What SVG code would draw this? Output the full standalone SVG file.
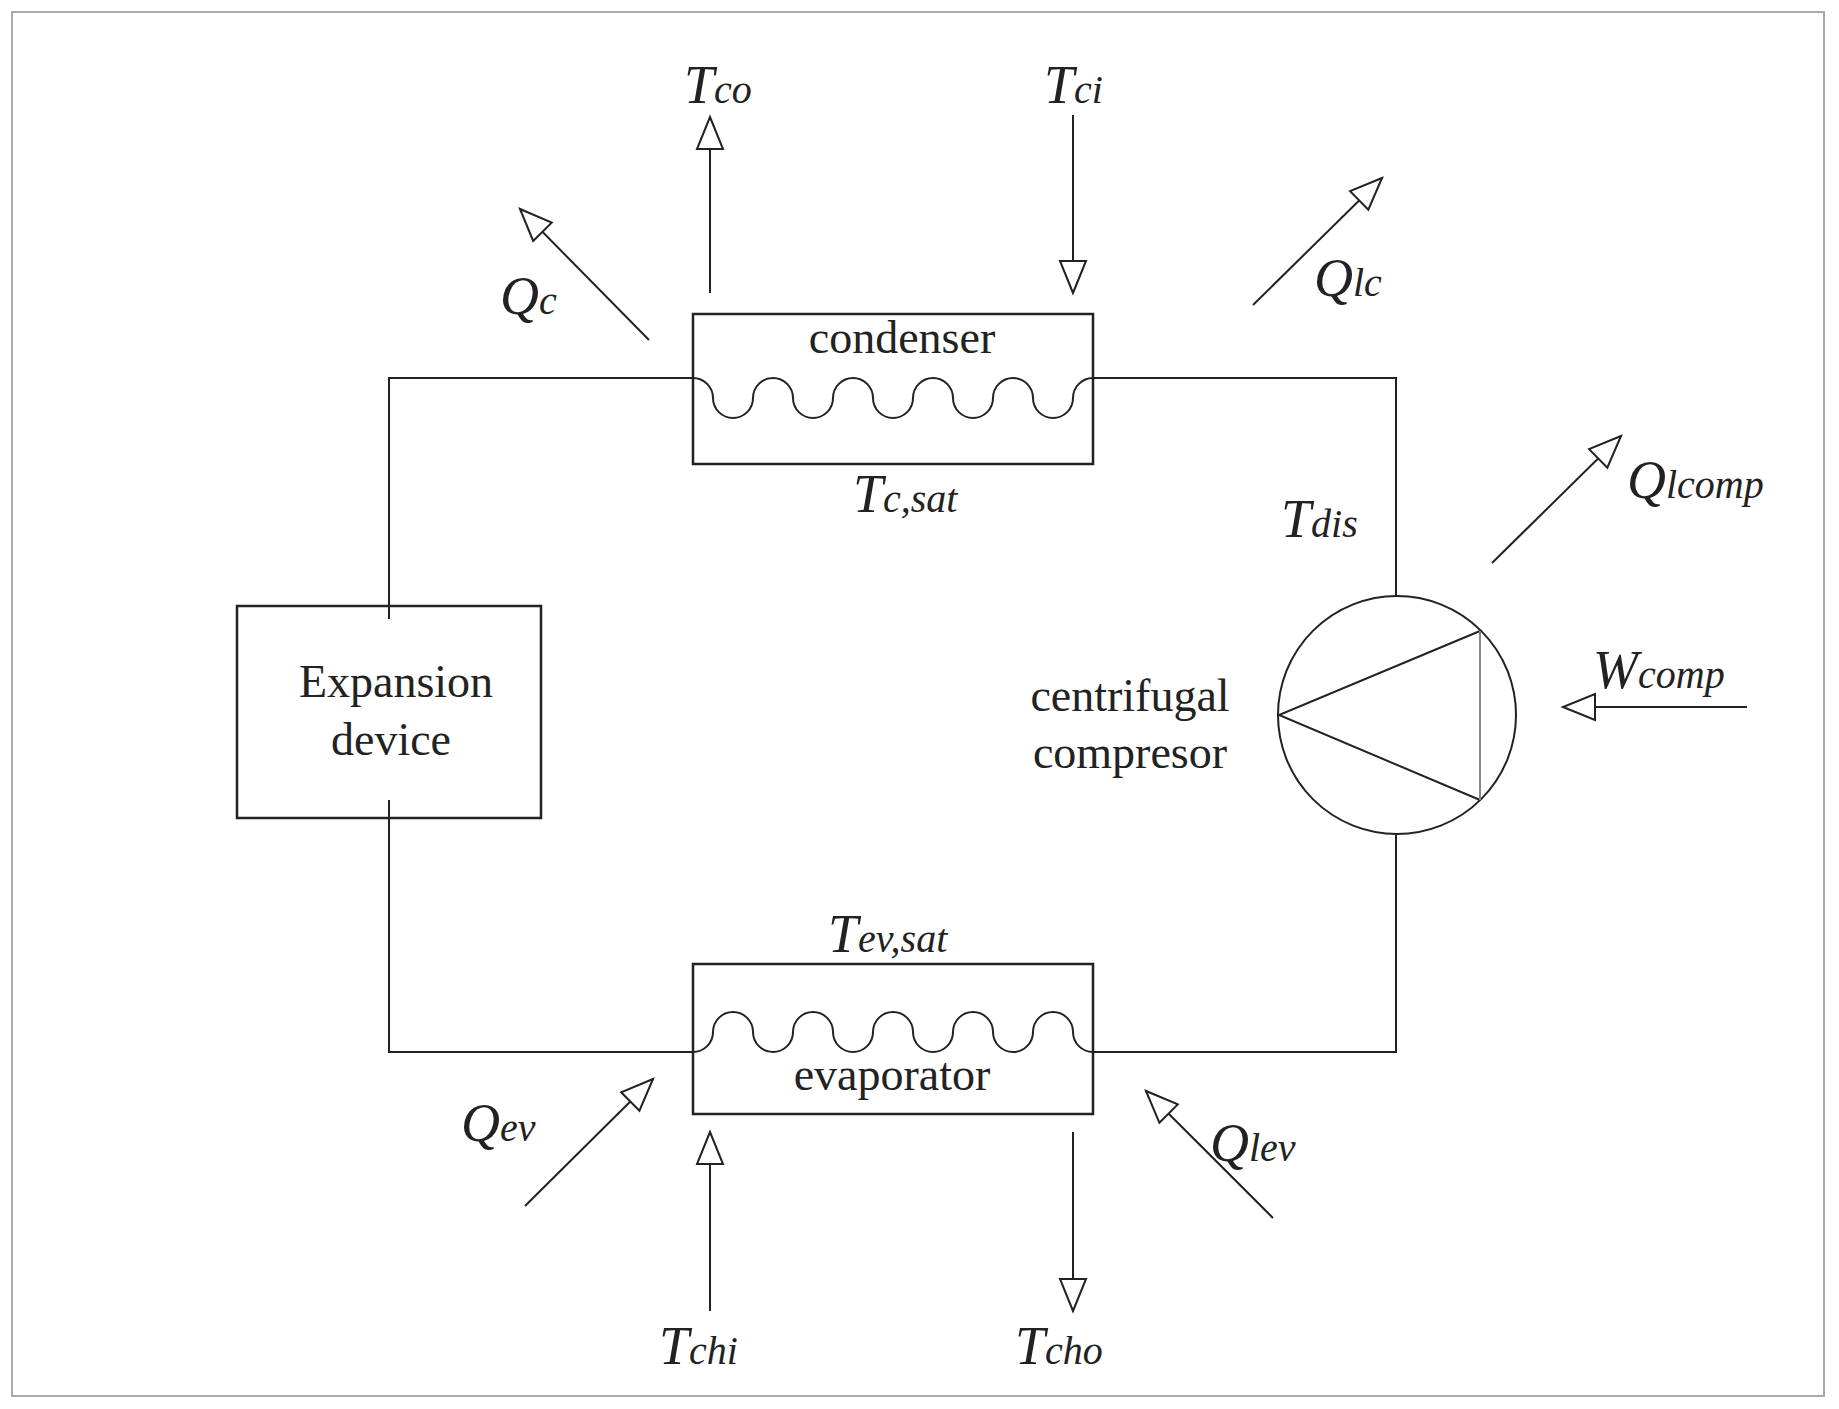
<svg xmlns="http://www.w3.org/2000/svg" width="1839" height="1409" viewBox="0 0 1839 1409">
<style>
.ln{stroke:#222;stroke-width:2;fill:none}
.bx{stroke:#222;stroke-width:2.5;fill:none}
.t{font-family:"Liberation Serif",serif;font-size:46px;fill:#222}
.v{font-family:"Liberation Serif",serif;font-style:italic;font-size:54px;fill:#222}
.s{font-size:40px}
.ar{stroke:#222;stroke-width:2;fill:none;marker-end:url(#h)}
</style>
<defs>
<marker id="h" markerUnits="userSpaceOnUse" viewBox="-36 -16 40 32" refX="0" refY="0" markerWidth="40" markerHeight="32" orient="auto" overflow="visible">
<path d="M0,0 L-32,-13 L-32,13 Z" fill="#fff" stroke="#222" stroke-width="2"/>
</marker>
</defs>
<rect x="0" y="0" width="1839" height="1409" fill="#fff"/>
<rect x="12" y="12" width="1812" height="1384" fill="none" stroke="#aaa" stroke-width="2"/>
<g id="connectors">
<path class="ln" d="M692,378 H389 V619"/>
<path class="ln" d="M389,800 V1052 H692"/>
<path class="ln" d="M1093,378 H1396 V596"/>
<path class="ln" d="M1396,835 V1052 H1093"/>
<line class="ar" x1="710" y1="293" x2="710" y2="117"/>
<line class="ar" x1="1073" y1="115" x2="1073" y2="293"/>
<line class="ar" x1="649" y1="340" x2="520" y2="209"/>
<line class="ar" x1="1253" y1="305" x2="1382" y2="178"/>
<line class="ar" x1="1492" y1="563" x2="1621" y2="436"/>
<line class="ar" x1="1747" y1="707" x2="1563" y2="707"/>
<line class="ar" x1="525" y1="1206" x2="653" y2="1079"/>
<line class="ar" x1="1273" y1="1218" x2="1146" y2="1091"/>
<line class="ar" x1="710" y1="1311" x2="710" y2="1132"/>
<line class="ar" x1="1073" y1="1132" x2="1073" y2="1311"/>
</g>
<g id="condenser">
<rect class="bx" x="693" y="314" width="400" height="150"/>
<path class="ln" d="M693,378 a20,20 0 0 1 20,20 a20,20 0 0 0 40,0 a20,20 0 0 1 40,0 a20,20 0 0 0 40,0 a20,20 0 0 1 40,0 a20,20 0 0 0 40,0 a20,20 0 0 1 40,0 a20,20 0 0 0 40,0 a20,20 0 0 1 40,0 a20,20 0 0 0 40,0 a20,20 0 0 1 20,-20"/>
<text class="t" x="902" y="353" text-anchor="middle">condenser</text>
</g>
<g id="evaporator">
<rect class="bx" x="693" y="964" width="400" height="150"/>
<path class="ln" d="M693,1052 a20,20 0 0 0 20,-20 a20,20 0 0 1 40,0 a20,20 0 0 0 40,0 a20,20 0 0 1 40,0 a20,20 0 0 0 40,0 a20,20 0 0 1 40,0 a20,20 0 0 0 40,0 a20,20 0 0 1 40,0 a20,20 0 0 0 40,0 a20,20 0 0 1 40,0 a20,20 0 0 0 20,20"/>
<text class="t" x="892" y="1090" text-anchor="middle">evaporator</text>
</g>
<g id="expansion">
<rect class="bx" x="237" y="606" width="304" height="212"/>
<text class="t" x="396" y="697" text-anchor="middle">Expansion</text>
<text class="t" x="391" y="755" text-anchor="middle">device</text>
</g>
<g id="compressor">
<circle class="ln" cx="1397" cy="715" r="119"/>
<path class="ln" d="M1480,631 L1279,715 L1480,800"/>
<line x1="1480" y1="631" x2="1480" y2="800" stroke="#888" stroke-width="2"/>
<text class="t" x="1130" y="711" text-anchor="middle">centrifugal</text>
<text class="t" x="1130" y="768" text-anchor="middle">compresor</text>
</g>
<g id="labels">
<text class="v" x="684" y="103">T<tspan class="s">co</tspan></text>
<text class="v" x="1044" y="103">T<tspan class="s">ci</tspan></text>
<text class="v" x="500" y="314">Q<tspan class="s">c</tspan></text>
<text class="v" x="1314" y="296">Q<tspan class="s">lc</tspan></text>
<text class="v" x="853" y="512">T<tspan class="s">c,sat</tspan></text>
<text class="v" x="1281" y="537">T<tspan class="s">dis</tspan></text>
<text class="v" x="1627" y="498">Q<tspan class="s">lcomp</tspan></text>
<text class="v" x="1593" y="688">W<tspan class="s">comp</tspan></text>
<text class="v" x="828" y="952">T<tspan class="s">ev,sat</tspan></text>
<text class="v" x="461" y="1141">Q<tspan class="s">ev</tspan></text>
<text class="v" x="1210" y="1161">Q<tspan class="s">lev</tspan></text>
<text class="v" x="659" y="1364">T<tspan class="s">chi</tspan></text>
<text class="v" x="1015" y="1364">T<tspan class="s">cho</tspan></text>
</g>
</svg>
